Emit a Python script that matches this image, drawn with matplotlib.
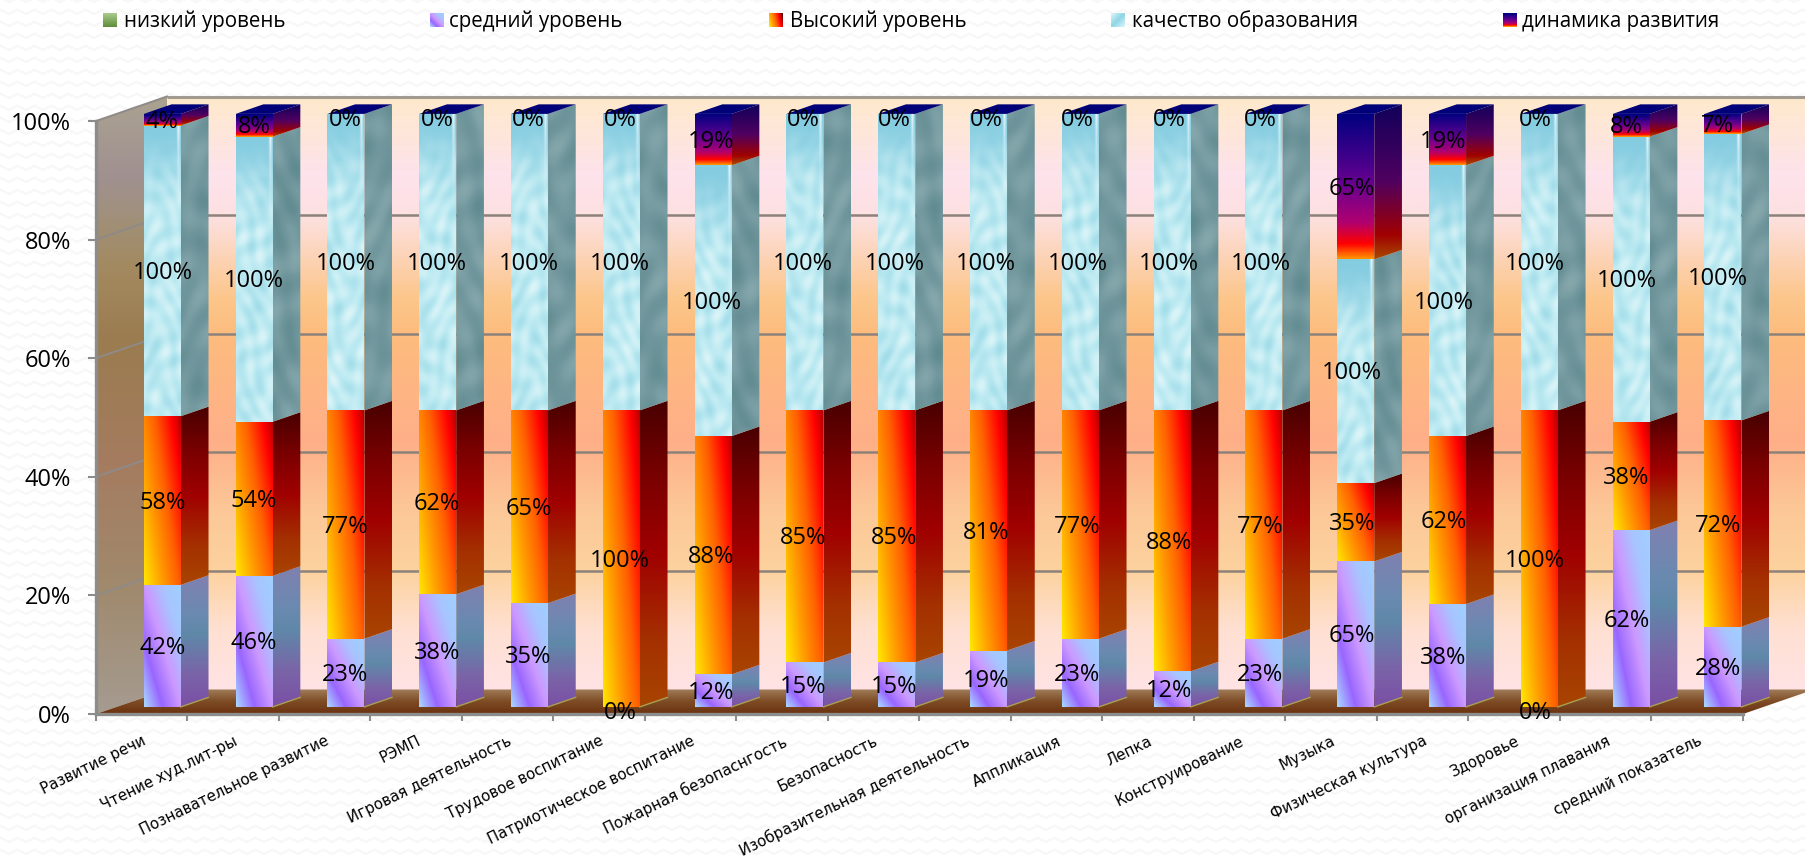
import numpy as np
import matplotlib
matplotlib.use('Agg')
import matplotlib.pyplot as plt
from matplotlib.colors import LinearSegmentedColormap as LSC
from matplotlib.patches import Polygon

# Data
categories = ['Развитие речи', 'Чтение худ.лит-ры', 'Познавательное развитие', 'РЭМП',
              'Игровая деятельность', 'Трудовое воспитание', 'Патриотическое воспитание',
              'Пожарная безопаснгость', 'Безопасность', 'Изобразительная деятельность',
              'Аппликация', 'Лепка', 'Конструирование', 'Музыка', 'Физическая культура',
              'Здоровье', 'организация плавания', 'средний показатель']
low = [0] * 18
medium = [42, 46, 23, 38, 35, 0, 12, 15, 15, 19, 23, 12, 23, 65, 38, 0, 62, 28]
high = [58, 54, 77, 62, 65, 100, 88, 85, 85, 81, 77, 88, 77, 35, 62, 100, 38, 72]
quality = [100] * 18
dynamics = [4, 8, 0, 0, 0, 0, 19, 0, 0, 0, 0, 0, 0, 65, 19, 0, 8, 7]
legend_labels = ['низкий уровень', 'средний уровень', 'Высокий уровень',
                 'качество образования', 'динамика развития']
yticks = [0, 20, 40, 60, 80, 100]

W, H = 1806, 856
FONT = 'Open Sans'
GRAY = '#8c8c8c'

# oblique 3D look: how far the back wall sits from the front plane
DEPTH_X = 0.776
DEPTH_Y = 4.13
BAR_D0, BAR_D1 = 0.29, 0.68
BAR_HALF = 0.202
BAR_SPREAD = 1.0033
PX_PER_PCT = 5.93


def proj(x, y, d):
    return x + d * DEPTH_X, y + d * DEPTH_Y


def cmap(*stops):
    return LSC.from_list('c', list(stops))


back_cm = cmap((0, '#ffe3e4'), (.1, '#ffe0d2'), (.2, '#fdd29e'), (.3, '#fcc898'), (.42, '#ffaf88'),
               (.6, '#fdbc7e'), (.66, '#fcc68a'), (.8, '#fde0e0'), (.87, '#fde3ec'), (1, '#ffe9cc'))
left_cm = cmap((0, '#a59b90'), (.2, '#a08a6e'), (.4, '#a57c60'), (.6, '#9b7b50'), (.72, '#a3895f'),
               (.8, '#a09078'), (.87, '#a09090'), (1, '#aaa290'))
floor_cm = cmap((0, '#6b3210'), (.5, '#7d4c25'), (1, '#a07c58'))

mid_front = cmap((0, '#a0d0ff'), (.25, '#a8c4ff'), (.5, '#cc99ff'), (.75, '#9966ff'), (1, '#a8d8ff'))
mid_side = cmap((0, '#8080b0'), (.3, '#6a8ab0'), (.45, '#5f88a8'), (.75, '#7a64a8'), (1, '#7b4fa5'))
high_front = cmap((0, '#ffe600'), (.25, '#ffa000'), (.5, '#ff6000'), (.75, '#ff0000'), (.87, '#c00000'), (1, '#500000'))
high_side = cmap((0, '#480000'), (.25, '#7a0000'), (.5, '#a00000'), (.78, '#a43000'), (1, '#a84400'))
dyn_front = cmap((0, '#000080'), (.5, '#6a0090'), (.75, '#b00070'), (.9, '#ff0000'), (1, '#ff9000'))
dyn_side = cmap((0, '#10005a'), (.5, '#500060'), (.85, '#a00000'), (1, '#a84800'))
ice_front = cmap((0, '#a0dce8'), (.5, '#bdeaf2'), (1, '#dcf5f8'))
ice_side = cmap((0, '#5f8a8f'), (.5, '#72989e'), (1, '#86a8ad'))


def uv(h, w):
    v, u = np.mgrid[0:h, 0:w]
    return u / max(w - 1, 1), v / max(h - 1, 1)


def diag_mid(h, w):
    u, v = uv(h, w)
    return mid_front((1 - u) * .5 + v * .5)


def diag_high(h, w):
    u, v = uv(h, w)
    return high_front(u * .52 + (1 - v) * .36)


def vert(cm, h, w=2):
    _, v = uv(h, w)
    return cm(v)


def ice_tex(h, w, phase, big=1.0):
    y, x = np.mgrid[0:h, 0:w]
    x = x * big
    y = y * big
    n = (np.sin(x * .42 + 2.2 * np.sin(y * .09 + phase)) * np.sin(y * .21 + 1.8 * np.sin(x * .17 + phase * 2))
         + .5 * np.sin((x + y) * .31 + phase) * np.sin((x - y) * .19))
    return np.clip((n + 1.5) / 3, 0, 1), y / big, x / big


def ice_face(h, w, phase):
    n, y, x = ice_tex(h, w, phase, big=.6)
    rgba = ice_front(n).copy()
    fade = np.exp(-(y / 48.0) ** 2)[..., None]
    rgba[..., :3] = rgba[..., :3] * (1 - fade) + np.array([.52, .8, .88]) * fade
    arc = .8 * np.exp(-((x - (w - 3)) / 1.4) ** 2) * np.exp(-y / 40.0)
    rgba[..., :3] = rgba[..., :3] * (1 - arc[..., None]) + arc[..., None]
    return rgba


def ice_wall(h, w, phase):
    n, _, _ = ice_tex(h, w, phase, big=.35)
    return ice_side(n)


fig = plt.figure(figsize=(W / 100, H / 100), dpi=100, facecolor='white')

# faint wavy page background
bg = fig.add_axes([0, 0, 1, 1], zorder=-1)
yy, xx = np.mgrid[0:H, 0:W]
tri = np.abs(((xx / 17.0) % 1) - .5) * 2
wave = ((yy + 4 * tri) % 12) < 3
bg.imshow(np.where(wave, .972, 1.0), cmap='gray', vmin=0, vmax=1, aspect='auto', interpolation='nearest')
bg.axis('off')

ax = fig.add_axes([96 / W, (H - 714) / H, (1743 - 96) / W, 593 / H])
ax.patch.set_visible(False)


def put(rgba, verts, z):
    xs, ys = zip(*verts)
    im = ax.imshow(rgba, extent=(min(xs), max(xs), min(ys), max(ys)), aspect='auto',
                   interpolation='bilinear', zorder=z)
    im.set_clip_path(Polygon(verts, transform=ax.transData))
    im.set_clip_box(fig.bbox)
    return im


x0, x1 = -0.5, 17.5
# back wall, left wall, floor
put(back_cm(np.linspace(1, 0, 300))[:, None], [proj(x0, 0, 1), proj(x1, 0, 1), proj(x1, 100, 1), proj(x0, 100, 1)], 0)
put(left_cm(np.linspace(1, 0, 300))[:, None], [proj(x0, 0, 0), proj(x0, 0, 1), proj(x0, 100, 1), proj(x0, 100, 0)], 0)
put(floor_cm(np.linspace(1, 0, 40))[:, None], [proj(x0, 0, 0), proj(x1, 0, 0), proj(x1, 0, 1), proj(x0, 0, 1)], 0)

for t in yticks[1:]:
    lw = 2.2 if t == 100 else 1.8
    ax.plot(*zip(proj(x0, t, 1), proj(x1, t, 1)), color='#8d8279' if t < 100 else '#a09a90', lw=lw,
            zorder=1, clip_on=False, solid_capstyle='butt')
    ax.plot(*zip(proj(x0, t, 0), proj(x0, t, 1)), color='#8f8a88', lw=1.4, zorder=1, clip_on=False)

# stacked bars as percent of the stack total
stack = np.array([low, medium, high, quality, dynamics], dtype=float)
shares = stack / stack.sum(axis=0) * 100
tops = np.cumsum(shares, axis=0)

for i in range(len(categories)):
    xc = i * BAR_SPREAD
    xl, xr = xc - BAR_HALF, xc + BAR_HALF
    for s in range(1, 5):
        y1 = tops[s, i]
        y0 = y1 - shares[s, i]
        if shares[s, i] > 0:
            hpx = max(int(shares[s, i] * PX_PER_PCT), 3)
            if s == 1:
                front, side = diag_mid(hpx, 37), vert(mid_side, hpx)
            elif s == 2:
                front, side = diag_high(hpx, 37), vert(high_side, hpx)
            elif s == 3:
                front, side = ice_face(hpx, 37, i * .7), ice_wall(hpx, 28, i * 1.3)
            else:
                front, side = vert(dyn_front, hpx), vert(dyn_side, hpx)
            put(front, [proj(xl, y0, BAR_D0), proj(xr, y0, BAR_D0), proj(xr, y1, BAR_D0), proj(xl, y1, BAR_D0)], 3)
            put(side, [proj(xr, y0, BAR_D0), proj(xr, y0, BAR_D1), proj(xr, y1, BAR_D1), proj(xr, y1, BAR_D0)], 3)
    # top face
    ax.add_patch(Polygon([proj(xl, 100, BAR_D0), proj(xr, 100, BAR_D0), proj(xr, 100, BAR_D1), proj(xl, 100, BAR_D1)],
                         fc='#000078', ec='none', zorder=3, clip_on=False))
    # base edge
    ax.plot(*zip(proj(xr, 0, BAR_D0), proj(xr, 0, BAR_D1)), color='#a8a050', lw=1, zorder=3, clip_on=False)

# value labels
for s, vals in zip(range(1, 5), [medium, high, quality, dynamics]):
    for i, v in enumerate(vals):
        ymid = tops[s, i] - shares[s, i] / 2
        xt, yt = proj(i, ymid, BAR_D0)
        yt -= 1.0 if v == 0 else 0.35
        ax.text(xt, yt, f'{v}%', ha='center', va='center', fontsize=17, family=FONT, color='black',
                zorder=5, clip_on=False)

ax.set_xlim(x0, x1)
ax.set_ylim(0, 100)
ax.set_xticks(range(18), categories, rotation=26, ha='right', rotation_mode='anchor', fontsize=10.8, family='DejaVu Sans')
ax.set_xticks(np.arange(-0.5, 18), minor=True)
ax.set_yticks(yticks, [f'{t}%' for t in yticks], fontsize=17, family=FONT)
ax.tick_params(axis='x', which='major', length=0, pad=14)
ax.tick_params(axis='x', which='minor', length=5, width=1.5, color=GRAY)
ax.tick_params(axis='y', length=6, width=1.5, color=GRAY, pad=12)
for side_name in ['top', 'right']:
    ax.spines[side_name].set_visible(False)
for side_name in ['left', 'bottom']:
    ax.spines[side_name].set_color(GRAY)
    ax.spines[side_name].set_linewidth(2.4)

# legend across the top
ov = fig.add_axes([0, 0, 1, 1], zorder=10)
ov.set_xlim(0, W)
ov.set_ylim(H, 0)
ov.axis('off')
key_x = [103, 430, 769, 1111, 1503]
text_x = [124, 449, 790, 1132, 1522]
u_k, v_k = uv(14, 14)
keys = [cmap('#a9c98c', '#5f8f3c')(v_k),
        diag_mid(14, 14),
        high_front(u_k * .8 + (1 - v_k) * .2),
        cmap('#8fd6e6', '#d9f4f8', '#8fd6e6')(np.abs(u_k + v_k - 1) * .5 + .0),
        vert(dyn_front, 14, 14)]
for kx, tx, key, lab in zip(key_x, text_x, keys, legend_labels):
    ov.imshow(key, extent=(kx, kx + 14, 27, 13), aspect='auto', interpolation='bilinear')
    ov.text(tx, 21.5, lab, ha='left', va='center', fontsize=14.8, family=FONT, color='black')
ov.set_xlim(0, W)
ov.set_ylim(H, 0)

fig.savefig('out.png', dpi=100)
